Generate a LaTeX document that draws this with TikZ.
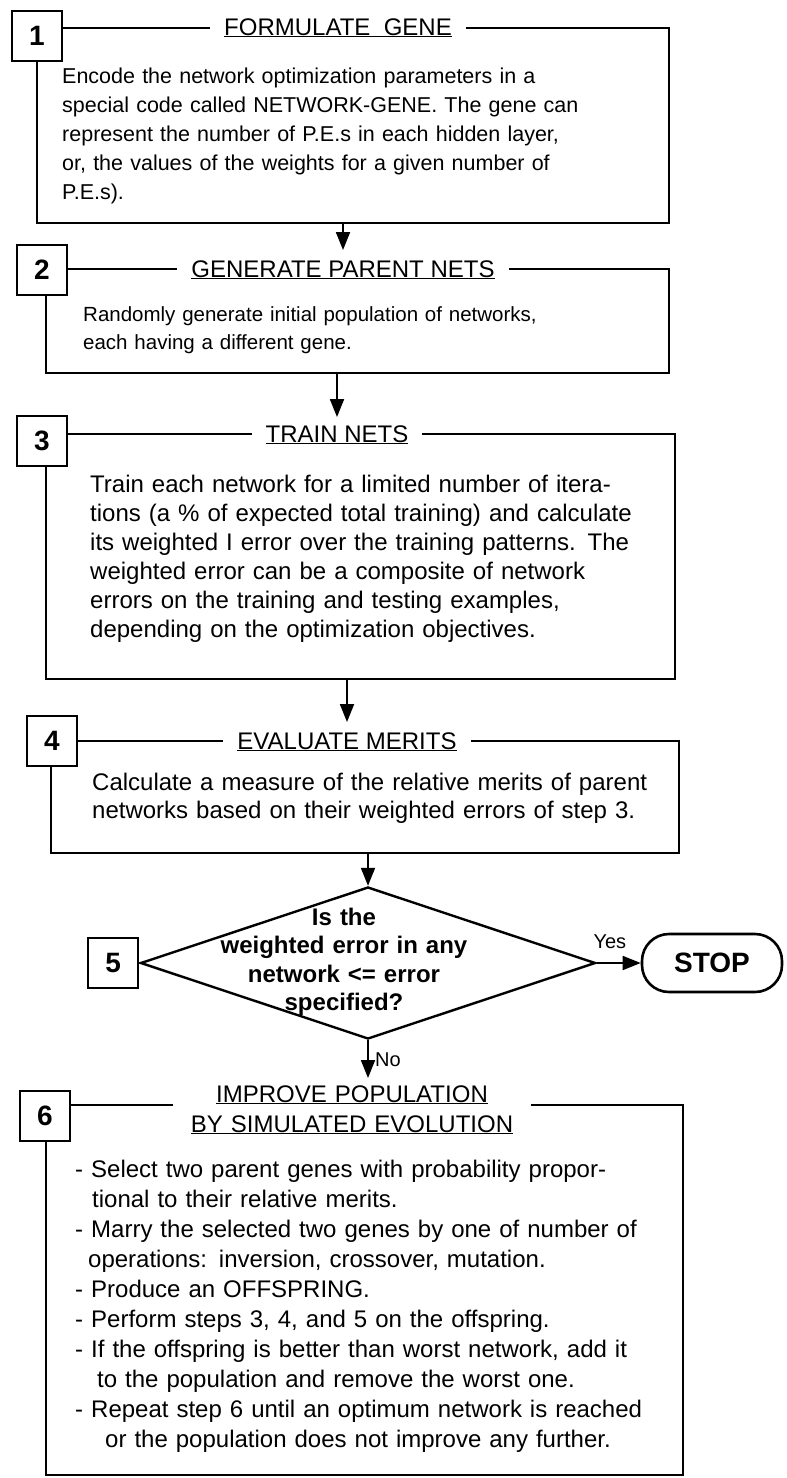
\documentclass[tikz,border=0pt]{standalone}
\usepackage{fontspec}
\setmainfont{Liberation Sans}
\usetikzlibrary{arrows.meta,positioning,shapes.geometric}

\begin{document}
\begin{tikzpicture}[x=1pt, y=-1pt,
    frame/.style={draw, line width=1.8pt, anchor=north west, inner sep=0pt},
    tag/.style={draw, fill=white, line width=2.4pt, minimum width=50pt, minimum height=50pt, inner sep=0pt, font=\fontsize{28}{28}\selectfont\bfseries},
    heading/.style={fill=white, anchor=base, inner xsep=14pt, inner ysep=2pt, align=center, font=\fontsize{24}{30}\selectfont},
    body/.style={anchor=base west, inner sep=0pt, text width=600pt, align=left, font=\fontsize{24}{29}\selectfont},
    flow/.style={line width=1.8pt, -{Triangle[length=18pt, width=14pt]}},
    decision/.style={draw, diamond, line width=2.4pt, minimum width=455pt, minimum height=152pt, inner sep=0pt},
    terminal/.style={draw, line width=2.6pt, rounded corners=27pt, minimum width=140pt, minimum height=58pt, font=\fontsize{28}{28}\selectfont\bfseries},
    answer/.style={font=\fontsize{20}{20}\selectfont}]
  \useasboundingbox (0,0) rectangle (787,1478);

  % frames of the five steps
  \node[frame, minimum width=632pt, minimum height=195pt] (gene) at (36,27) {};
  \node[frame, minimum width=623pt, minimum height=104pt] (parents) at (45,268) {};
  \node[frame, minimum width=629pt, minimum height=245pt] (train) at (45,433) {};
  \node[frame, minimum width=628pt, minimum height=112pt] (merits) at (50,740) {};
  \node[frame, minimum width=637pt, minimum height=370pt] (evolve) at (45,1104) {};

  % headings break the top lines
  \node[heading] (gene-title) at (338,35) {\underline{FORMULATE\ \ GENE}};
  \node[heading] (parents-title) at (343,277) {\underline{GENERATE PARENT NETS}};
  \node[heading] (train-title) at (337,442) {\underline{TRAIN NETS}};
  \node[heading] (merits-title) at (347,749) {\underline{EVALUATE MERITS}};
  \node[heading, text width=330pt] (evolve-title) at (352,1102) {\underline{IMPROVE POPULATION}\\\underline{BY SIMULATED EVOLUTION}};

  % step numbers
  \node[tag] (gene-tag) at (37,36) {1};
  \node[tag] (parents-tag) at (42,270) {2};
  \node[tag] (train-tag) at (42,441) {3};
  \node[tag] (merits-tag) at (52,741) {4};
  \node[tag] (evolve-tag) at (45,1116) {6};

  \node[body, font=\fontsize{21.5}{29}\selectfont] (gene-text) at (62,83) {Encode the network optimization parameters in a\\
    special code called NETWORK-GENE. The gene can\\
    represent the number of P.E.s in each hidden layer,\\
    or, the values of the weights for a given number of\\
    P.E.s).};
  \node[body, font=\fontsize{20.5}{28}\selectfont] (parents-text) at (83,321) {Randomly generate initial population of networks,\\
    each having a different gene.};
  \node[body] (train-text) at (90,492) {Train each network for a limited number of itera-\\
    tions (a \% of expected total training) and calculate\\
    its weighted I error over the training patterns. The\\
    weighted error can be a composite of network\\
    errors on the training and testing examples,\\
    depending on the optimization objectives.};
  \node[body, font=\fontsize{24}{28}\selectfont] (merits-text) at (92,790) {Calculate a measure of the relative merits of parent\\
    networks based on their weighted errors of step 3.};
  \node[body, font=\fontsize{24}{30}\selectfont] (evolve-text) at (75,1177) {- Select two parent genes with probability propor-\\
    \hspace*{17pt}tional to their relative merits.\\
    - Marry the selected two genes by one of number of\\
    \hspace*{13pt}operations: inversion, crossover, mutation.\\
    - Produce an OFFSPRING.\\
    - Perform steps 3, 4, and 5 on the offspring.\\
    - If the offspring is better than worst network, add it\\
    \hspace*{22pt}to the population and remove the worst one.\\
    - Repeat step 6 until an optimum network is reached\\
    \hspace*{30pt}or the population does not improve any further.};

  % stopping test
  \node[decision] (test) at (368,963) {};
  \node[anchor=base, inner sep=0pt, text width=300pt, align=center, font=\fontsize{24}{28.5}\selectfont\bfseries] (test-text) at (344,925) {Is the\\
    weighted error in any\\
    network <= error\\
    specified?};
  \node[tag, anchor=east] (test-tag) at (test.west) {5};
  \node[terminal, right=44pt of test] (stop) {STOP};

  \draw[flow, shorten >=8pt] (gene.south -| parents-title.north) -- (parents-title.north);
  \draw[flow, shorten >=6pt] (parents.south -| train-title.north) -- (train-title.north);
  \draw[flow, shorten >=8pt] (train.south -| merits-title.north) -- (merits-title.north);
  \draw[flow] (merits.south -| test.north) -- (test.north);
  \draw[flow] (test.east) -- node[answer, above=10pt, pos=0.3] (yes) {Yes} (stop.west);
  \draw[flow, shorten >=5pt] (test.south) -- node[answer, right=3pt, pos=0.45] (no) {No} (test.south |- evolve-title.north);
\end{tikzpicture}
\end{document}
